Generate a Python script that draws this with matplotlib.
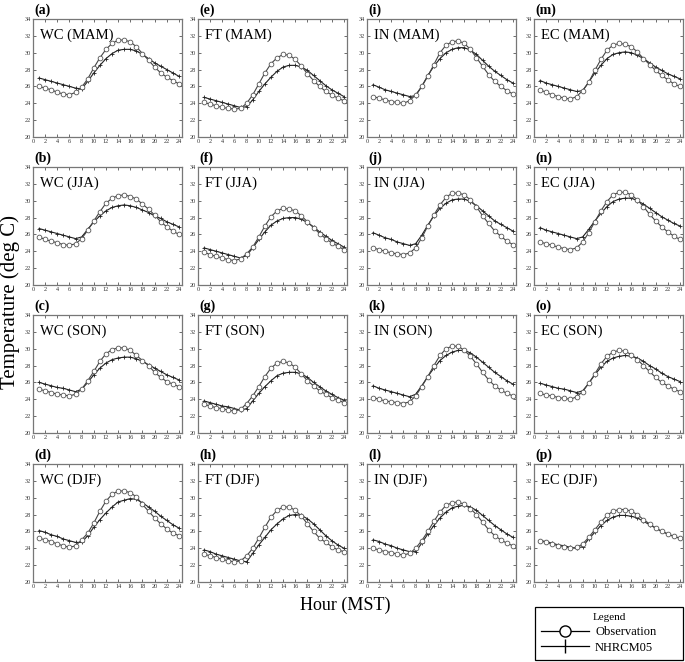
import numpy as np
import matplotlib
matplotlib.use('Agg')
import matplotlib.pyplot as plt
from matplotlib.lines import Line2D

plt.rcParams['font.family'] = ['Liberation Serif', 'DejaVu Serif']

hours = np.arange(1, 25)

regions = ['WC', 'FT', 'IN', 'EC']
seasons = ['MAM', 'JJA', 'SON', 'DJF']
letters = ['a', 'b', 'c', 'd', 'e', 'f', 'g', 'h',
           'i', 'j', 'k', 'l', 'm', 'n', 'o', 'p']

# observations, one list per panel (region, season)
obs_wc_mam = [26.0, 25.8, 25.6, 25.3, 25.1, 25.0, 25.3, 25.9, 26.9, 28.2, 29.4, 30.4,
              31.1, 31.5, 31.5, 31.3, 30.7, 29.9, 29.1, 28.3, 27.6, 27.1, 26.7, 26.3]
obs_wc_jja = [25.7, 25.4, 25.2, 25.0, 24.8, 24.7, 24.9, 25.5, 26.5, 27.6, 28.7, 29.7,
              30.3, 30.6, 30.7, 30.5, 30.2, 29.6, 29.0, 28.3, 27.5, 26.9, 26.4, 26.0]
obs_wc_son = [25.2, 25.0, 24.8, 24.6, 24.5, 24.4, 24.6, 25.2, 26.2, 27.3, 28.5, 29.4,
              29.9, 30.1, 30.1, 29.8, 29.2, 28.6, 28.0, 27.2, 26.6, 26.1, 25.8, 25.5]
obs_wc_djf = [25.2, 25.0, 24.8, 24.5, 24.3, 24.1, 24.3, 25.0, 25.8, 27.0, 28.4, 29.6,
              30.4, 30.8, 30.8, 30.6, 30.1, 29.2, 28.4, 27.6, 26.9, 26.3, 25.8, 25.5]
obs_ft_mam = [24.1, 23.9, 23.7, 23.5, 23.4, 23.3, 23.4, 24.0, 25.0, 26.3, 27.6, 28.7,
              29.4, 29.8, 29.7, 29.2, 28.4, 27.5, 26.7, 26.0, 25.4, 25.0, 24.6, 24.3]
obs_ft_jja = [23.9, 23.6, 23.4, 23.2, 23.0, 22.9, 23.1, 23.7, 24.5, 25.7, 27.0, 28.1,
              28.8, 29.1, 29.0, 28.8, 28.2, 27.5, 26.8, 26.1, 25.5, 25.0, 24.6, 24.2]
obs_ft_son = [23.4, 23.2, 23.0, 22.9, 22.7, 22.6, 22.8, 23.5, 24.4, 25.5, 26.7, 27.7,
              28.3, 28.5, 28.3, 27.8, 27.0, 26.2, 25.6, 25.0, 24.6, 24.2, 23.9, 23.6]
obs_ft_djf = [23.3, 23.1, 22.9, 22.7, 22.5, 22.4, 22.5, 23.1, 24.0, 25.2, 26.5, 27.7,
              28.5, 28.9, 28.9, 28.5, 27.8, 26.9, 26.0, 25.2, 24.7, 24.2, 23.8, 23.6]
obs_in_mam = [24.8, 24.6, 24.4, 24.2, 24.1, 24.0, 24.3, 25.0, 26.0, 27.2, 28.6, 30.0,
              30.9, 31.3, 31.4, 31.1, 30.4, 29.4, 28.4, 27.4, 26.6, 26.0, 25.5, 25.1]
obs_in_jja = [24.4, 24.2, 24.0, 23.8, 23.7, 23.6, 23.8, 24.4, 25.6, 27.0, 28.3, 29.5,
              30.4, 30.9, 30.9, 30.7, 30.1, 29.3, 28.2, 27.3, 26.4, 25.8, 25.2, 24.8]
obs_in_son = [24.2, 24.0, 23.8, 23.7, 23.6, 23.5, 23.7, 24.4, 25.5, 26.7, 28.0, 29.2,
              30.0, 30.3, 30.3, 29.8, 29.1, 28.2, 27.2, 26.3, 25.6, 25.1, 24.7, 24.4]
obs_in_djf = [24.0, 23.8, 23.6, 23.5, 23.3, 23.2, 23.4, 24.0, 24.9, 26.0, 27.2, 28.3,
              29.1, 29.4, 29.5, 29.2, 28.7, 28.0, 27.1, 26.2, 25.5, 25.0, 24.6, 24.3]
obs_ec_mam = [25.6, 25.3, 25.0, 24.8, 24.6, 24.5, 24.8, 25.5, 26.5, 27.9, 29.2, 30.3,
              30.9, 31.1, 31.0, 30.7, 30.1, 29.3, 28.6, 27.9, 27.3, 26.8, 26.3, 26.0]
obs_ec_jja = [25.1, 24.9, 24.7, 24.5, 24.3, 24.2, 24.4, 25.1, 26.2, 27.5, 28.8, 29.9,
              30.7, 31.0, 31.0, 30.7, 30.1, 29.3, 28.4, 27.6, 26.9, 26.3, 25.8, 25.4]
obs_ec_son = [24.7, 24.5, 24.4, 24.2, 24.1, 24.0, 24.3, 24.9, 25.9, 27.0, 28.2, 29.1,
              29.6, 29.8, 29.7, 29.3, 28.7, 28.0, 27.3, 26.6, 26.0, 25.6, 25.2, 24.9]
obs_ec_djf = [24.9, 24.7, 24.5, 24.3, 24.2, 24.0, 24.1, 24.5, 25.3, 26.2, 27.1, 27.9,
              28.4, 28.6, 28.6, 28.4, 28.0, 27.4, 26.9, 26.4, 26.0, 25.7, 25.4, 25.2]

# NHRCM05 model
mod_wc_mam = [27.0, 26.8, 26.6, 26.4, 26.2, 26.0, 25.8, 25.7, 26.6, 27.6, 28.5, 29.3,
              29.9, 30.3, 30.4, 30.4, 30.2, 29.8, 29.3, 28.8, 28.4, 28.0, 27.6, 27.2]
mod_wc_jja = [26.7, 26.5, 26.3, 26.1, 25.9, 25.7, 25.5, 25.7, 26.6, 27.5, 28.2, 28.8,
              29.2, 29.4, 29.5, 29.4, 29.2, 28.9, 28.6, 28.2, 27.9, 27.5, 27.2, 26.9]
mod_wc_son = [26.0, 25.8, 25.6, 25.4, 25.3, 25.1, 24.9, 25.2, 26.0, 26.9, 27.7, 28.3,
              28.7, 28.9, 29.0, 29.0, 28.8, 28.5, 28.1, 27.7, 27.3, 26.9, 26.6, 26.3]
mod_wc_djf = [26.1, 25.9, 25.6, 25.4, 25.1, 24.9, 24.7, 24.7, 25.5, 26.5, 27.4, 28.2,
              28.9, 29.5, 29.7, 29.9, 29.8, 29.4, 28.9, 28.4, 27.8, 27.3, 26.8, 26.4]
mod_ft_mam = [24.7, 24.5, 24.3, 24.1, 23.9, 23.7, 23.5, 23.6, 24.4, 25.4, 26.3, 27.1,
              27.8, 28.3, 28.5, 28.5, 28.3, 27.9, 27.3, 26.7, 26.1, 25.6, 25.2, 24.8]
mod_ft_jja = [24.4, 24.2, 24.0, 23.8, 23.6, 23.4, 23.2, 23.5, 24.4, 25.4, 26.3, 27.1,
              27.6, 27.9, 28.0, 28.0, 27.8, 27.4, 26.9, 26.3, 25.8, 25.3, 24.9, 24.5]
mod_ft_son = [23.8, 23.6, 23.4, 23.2, 23.1, 22.9, 22.7, 22.9, 23.8, 24.7, 25.5, 26.2,
              26.8, 27.1, 27.2, 27.2, 27.0, 26.6, 26.0, 25.5, 25.0, 24.6, 24.2, 23.9]
mod_ft_djf = [23.8, 23.6, 23.3, 23.1, 22.9, 22.7, 22.5, 22.4, 23.4, 24.4, 25.3, 26.2,
              26.9, 27.5, 27.9, 28.0, 27.9, 27.5, 26.9, 26.2, 25.5, 24.9, 24.4, 24.0]
mod_in_mam = [26.2, 25.9, 25.6, 25.4, 25.2, 25.0, 24.8, 24.9, 26.0, 27.3, 28.4, 29.3,
              30.0, 30.4, 30.6, 30.6, 30.3, 29.8, 29.1, 28.4, 27.8, 27.3, 26.8, 26.4]
mod_in_jja = [26.2, 25.9, 25.6, 25.4, 25.1, 24.9, 24.7, 24.9, 25.9, 27.1, 28.2, 29.1,
              29.7, 30.1, 30.2, 30.2, 29.9, 29.4, 28.8, 28.2, 27.6, 27.2, 26.8, 26.4]
mod_in_son = [25.6, 25.3, 25.1, 24.9, 24.7, 24.5, 24.3, 24.6, 25.6, 26.7, 27.7, 28.6,
              29.2, 29.6, 29.8, 29.8, 29.5, 29.0, 28.4, 27.8, 27.2, 26.7, 26.2, 25.8]
mod_in_djf = [25.0, 24.8, 24.5, 24.3, 24.0, 23.8, 23.6, 23.6, 24.6, 25.7, 26.7, 27.6,
              28.3, 28.8, 29.0, 29.1, 28.9, 28.5, 27.9, 27.3, 26.7, 26.2, 25.7, 25.3]
mod_ec_mam = [26.7, 26.4, 26.2, 26.0, 25.8, 25.6, 25.4, 25.5, 26.5, 27.6, 28.5, 29.3,
              29.8, 30.0, 30.1, 30.0, 29.7, 29.3, 28.8, 28.3, 27.9, 27.5, 27.2, 26.9]
mod_ec_jja = [26.8, 26.5, 26.3, 26.1, 25.9, 25.7, 25.5, 25.7, 26.6, 27.6, 28.5, 29.3,
              29.9, 30.2, 30.3, 30.3, 30.0, 29.6, 29.1, 28.6, 28.1, 27.7, 27.3, 27.0]
mod_ec_son = [25.9, 25.7, 25.5, 25.3, 25.2, 25.0, 24.8, 25.0, 25.9, 26.9, 27.8, 28.5,
              28.9, 29.1, 29.2, 29.1, 28.9, 28.5, 28.0, 27.6, 27.1, 26.7, 26.4, 26.1]
mod_ec_djf = [24.9, 24.8, 24.6, 24.4, 24.3, 24.1, 24.0, 24.2, 25.1, 25.9, 26.7, 27.3,
              27.7, 27.9, 27.9, 27.8, 27.6, 27.2, 26.8, 26.4, 26.0, 25.7, 25.4, 25.2]

obs = [[obs_wc_mam, obs_wc_jja, obs_wc_son, obs_wc_djf],
       [obs_ft_mam, obs_ft_jja, obs_ft_son, obs_ft_djf],
       [obs_in_mam, obs_in_jja, obs_in_son, obs_in_djf],
       [obs_ec_mam, obs_ec_jja, obs_ec_son, obs_ec_djf]]
mod = [[mod_wc_mam, mod_wc_jja, mod_wc_son, mod_wc_djf],
       [mod_ft_mam, mod_ft_jja, mod_ft_son, mod_ft_djf],
       [mod_in_mam, mod_in_jja, mod_in_son, mod_in_djf],
       [mod_ec_mam, mod_ec_jja, mod_ec_son, mod_ec_djf]]

W, H = 685, 662
fig = plt.figure(figsize=(W/100, H/100), dpi=100)

col_left = [33, 198, 367, 534]
row_top = [19, 167, 315, 464]
aw, ah = 149, 118

for c in range(4):
    for r in range(4):
        ax = fig.add_axes([col_left[c]/W, 1 - (row_top[r] + ah)/H, aw/W, ah/H])
        ax.plot(hours, mod[c][r], color='#222222', lw=0.8, marker='+', ms=2.5, mew=0.6)
        ax.plot(hours, obs[c][r], color='#444444', lw=0.8, marker='o', ms=3.4,
                mfc='white', mec='#555555', mew=0.6)
        ax.set_xlim(0, 24.5)
        ax.set_ylim(20, 34)
        ax.set_xticks(np.arange(0, 25, 2))
        ax.set_yticks(np.arange(20, 35, 2))
        ax.tick_params(direction='in', length=2, width=0.5, labelsize=4.5,
                       colors='#333333', pad=1.5, top=True, right=True)
        for s in ax.spines.values():
            s.set_color('#777777')
            s.set_linewidth(0.9)
        ax.text(0.05, 0.92, f'{regions[c]} ({seasons[r]})', transform=ax.transAxes,
                ha='left', va='top', fontsize=10.5)
        ax.text(0.01, 1.02, f'({letters[c*4 + r]})', transform=ax.transAxes,
                ha='left', va='bottom', fontsize=10, fontweight='bold')

fig.text(10/W, 1 - 302/H, 'Temperature (deg C)', rotation=90, ha='center',
         va='center', fontsize=15)
fig.text(345/W, 1 - 605/H, 'Hour (MST)', ha='center', va='center', fontsize=13)

handles = [Line2D([], [], color='black', lw=0.9, marker='o', ms=8, mfc='white', mec='black'),
           Line2D([], [], color='black', lw=0.9, marker='|', ms=10, mec='black')]
leg = fig.legend(handles, ['Observation', 'NHRCM05'], title='Legend',
                 loc='lower left', bbox_to_anchor=(535/W, 1 - 660/H, 148/W, 58/H),
                 mode='expand', fancybox=False, edgecolor='black', fontsize=9,
                 title_fontsize=8, handlelength=3.8, handletextpad=0.5,
                 borderpad=0.5, borderaxespad=0, labelspacing=0.3, framealpha=1)
leg.get_frame().set_linewidth(0.9)

fig.savefig('out.png', dpi=100)
